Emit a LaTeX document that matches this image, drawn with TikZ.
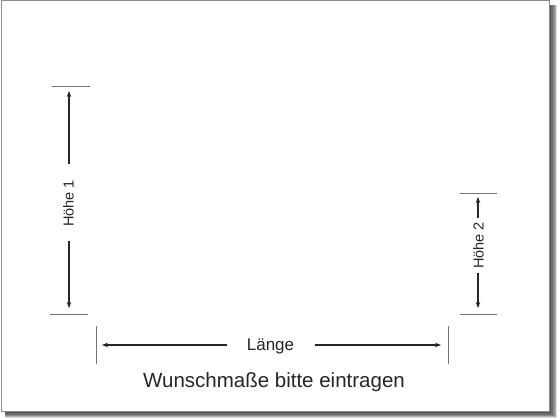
\documentclass[tikz,border=0pt]{standalone}
\usepackage{fontspec}
\setmainfont{Liberation Sans}
\usetikzlibrary{arrows.meta}
\definecolor{ink}{HTML}{262626}
\tikzset{
  dimline/.style={draw=ink, line width=1.4pt, -{Stealth[length=6pt,width=4.5pt]}},
  tickline/.style={draw=black!55, line width=0.8pt},
  lbl/.style={text=ink, font=\fontsize{14.5}{17}\selectfont, inner sep=0pt},
}
\begin{document}
\begin{tikzpicture}[x=1pt,y=-1pt]
\useasboundingbox (0,0) rectangle (560,420);
% shadow
\fill[black!15] (5,5) rectangle (557,418);
\fill[black!30] (5,5) rectangle (556,417);
\fill[black!45] (5,5) rectangle (555,416);
\fill[black!58] (5,5) rectangle (553,415);
\fill[black!68] (5,5) rectangle (551,413);
% frame
\filldraw[fill=white, draw=black!45, line width=1pt] (1,1) rectangle (549,411);
% Hoehe 1
\draw[tickline] (52,86) -- (90,86);
\draw[tickline] (50,314) -- (88,314);
\node[lbl, rotate=90] (h1) at (68.5,203.5) {Höhe 1};
\coordinate (h1top) at (69,91);
\coordinate (h1bot) at (69,308);
\draw[dimline] (69,164) -- (h1top);
\draw[dimline] (69,241) -- (h1bot);
% Hoehe 2
\draw[tickline] (460,193) -- (497,193);
\draw[tickline] (460,314) -- (497,314);
\node[lbl, rotate=90] (h2) at (478.5,245.5) {Höhe 2};
\coordinate (h2top) at (478,197);
\coordinate (h2bot) at (478,308);
\draw[dimline] (478,218) -- (h2top);
\draw[dimline] (478,273) -- (h2bot);
% Laenge
\draw[tickline] (96,326) -- (96,364);
\draw[tickline] (448,326) -- (448,364);
\node[lbl, font=\fontsize{17}{20}\selectfont, anchor=base] (len) at (270.5,350.5) {Länge};
\coordinate (lenl) at (102,345);
\coordinate (lenr) at (441,345);
\draw[dimline] (227,345) -- (lenl);
\draw[dimline] (315,345) -- (lenr);
% caption
\node[text=ink, font=\fontsize{20.5}{24}\selectfont, inner sep=0pt, anchor=base] (cap) at (274,387.5) {Wunschmaße bitte eintragen};
\end{tikzpicture}
\end{document}
